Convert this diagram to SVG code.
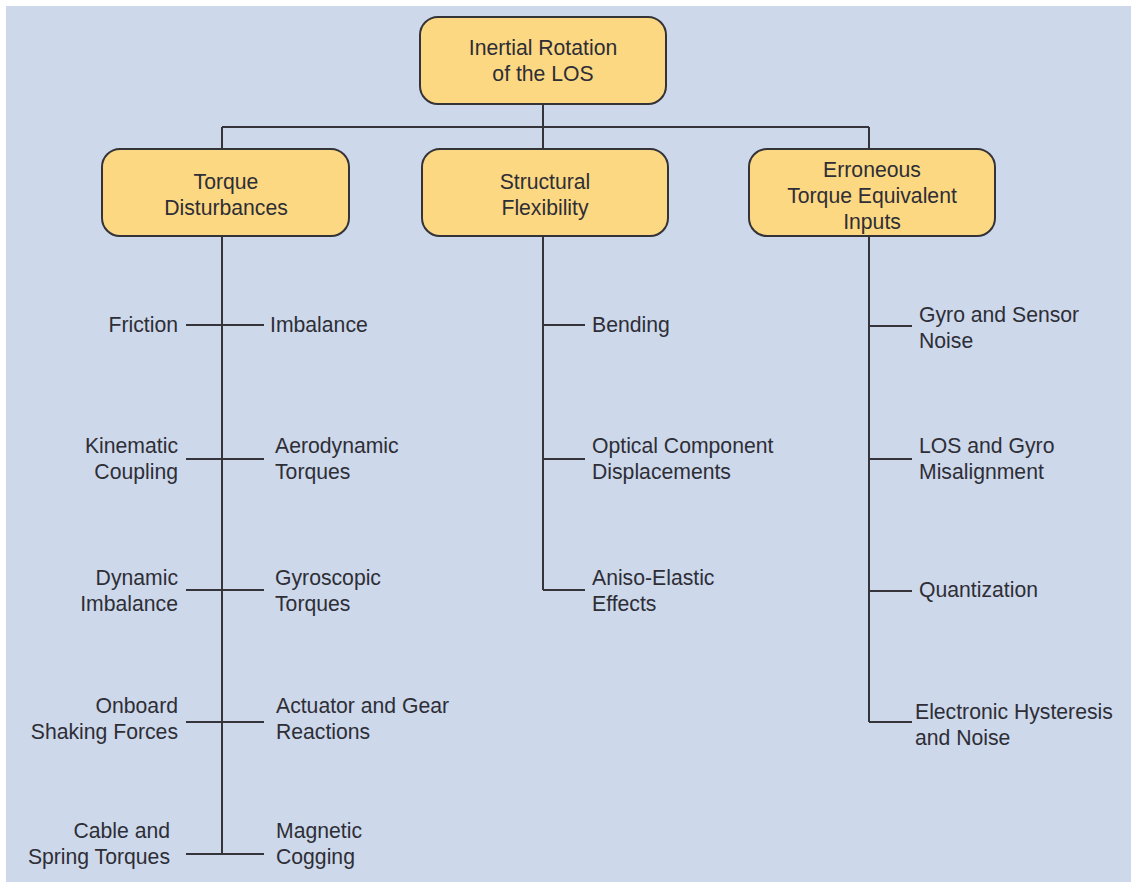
<svg xmlns="http://www.w3.org/2000/svg" width="1131" height="886" viewBox="0 0 1131 886">
  <style>
    .box { fill: #fdd882; stroke: #333338; stroke-width: 2; }
    .ln { stroke: #34343a; stroke-width: 2; fill: none; }
    text { font-family: "Liberation Sans", Arial, sans-serif; font-size: 21.2px; fill: #2e2e36; }
    .c { text-anchor: middle; }
    .r { text-anchor: end; }
  </style>
  <rect x="0" y="0" width="1131" height="886" fill="#ffffff"/>
  <rect x="6" y="6" width="1125" height="876" fill="#cdd8eb"/>

  <g id="connectors">
    <path class="ln" d="M543 104V127M222 127H869M222 127V150M543 127V150M869 127V150"/>
    <!-- Torque disturbances spine -->
    <path class="ln" d="M222 236V855"/>
    <path class="ln" d="M186 325H264M186 459H264M186 590H264M186 722H264M186 854H264"/>
    <!-- Structural flexibility spine -->
    <path class="ln" d="M543 236V590"/>
    <path class="ln" d="M543 325H585M543 459H585M543 590H585"/>
    <!-- Erroneous inputs spine -->
    <path class="ln" d="M869 236V722"/>
    <path class="ln" d="M869 326H912M869 459H912M869 591H912M869 722H912"/>
  </g>

  <g id="root">
    <rect class="box" x="420" y="17" width="246" height="87" rx="18"/>
    <text class="c" x="543" y="55">Inertial Rotation</text>
    <text class="c" x="543" y="81">of the LOS</text>
  </g>

  <g id="torque-disturbances">
    <rect class="box" x="102" y="149" width="247" height="87" rx="18"/>
    <text class="c" x="226" y="189">Torque</text>
    <text class="c" x="226" y="215">Disturbances</text>
  </g>

  <g id="structural-flexibility">
    <rect class="box" x="422" y="149" width="246" height="87" rx="18"/>
    <text class="c" x="545" y="189">Structural</text>
    <text class="c" x="545" y="215">Flexibility</text>
  </g>

  <g id="erroneous-inputs">
    <rect class="box" x="749" y="149" width="246" height="87" rx="18"/>
    <text class="c" x="872" y="177">Erroneous</text>
    <text class="c" x="872" y="203">Torque Equivalent</text>
    <text class="c" x="872" y="229">Inputs</text>
  </g>

  <g id="friction"><text class="r" x="178" y="332">Friction</text></g>
  <g id="imbalance"><text x="270" y="332">Imbalance</text></g>
  <g id="kinematic-coupling">
    <text class="r" x="178" y="453">Kinematic</text>
    <text class="r" x="178" y="479">Coupling</text>
  </g>
  <g id="aerodynamic-torques">
    <text x="275" y="453">Aerodynamic</text>
    <text x="275" y="479">Torques</text>
  </g>
  <g id="dynamic-imbalance">
    <text class="r" x="178" y="585">Dynamic</text>
    <text class="r" x="178" y="611">Imbalance</text>
  </g>
  <g id="gyroscopic-torques">
    <text x="275" y="585">Gyroscopic</text>
    <text x="275" y="611">Torques</text>
  </g>
  <g id="onboard-shaking">
    <text class="r" x="178" y="713">Onboard</text>
    <text class="r" x="178" y="739">Shaking Forces</text>
  </g>
  <g id="actuator-gear">
    <text x="276" y="713">Actuator and Gear</text>
    <text x="276" y="739">Reactions</text>
  </g>
  <g id="cable-spring">
    <text class="r" x="170" y="838">Cable and</text>
    <text class="r" x="170" y="864">Spring Torques</text>
  </g>
  <g id="magnetic-cogging">
    <text x="276" y="838">Magnetic</text>
    <text x="276" y="864">Cogging</text>
  </g>

  <g id="bending"><text x="592" y="332">Bending</text></g>
  <g id="optical-displacements">
    <text x="592" y="453">Optical Component</text>
    <text x="592" y="479">Displacements</text>
  </g>
  <g id="aniso-elastic">
    <text x="592" y="585">Aniso-Elastic</text>
    <text x="592" y="611">Effects</text>
  </g>

  <g id="gyro-noise">
    <text x="919" y="322">Gyro and Sensor</text>
    <text x="919" y="348">Noise</text>
  </g>
  <g id="los-misalignment">
    <text x="919" y="453">LOS and Gyro</text>
    <text x="919" y="479">Misalignment</text>
  </g>
  <g id="quantization"><text x="919" y="597">Quantization</text></g>
  <g id="hysteresis-noise">
    <text x="915" y="719">Electronic Hysteresis</text>
    <text x="915" y="745">and Noise</text>
  </g>
</svg>
